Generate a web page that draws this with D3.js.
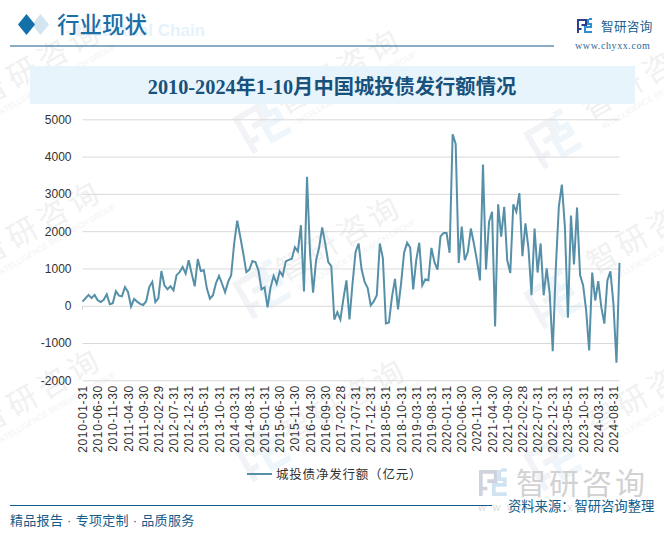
<!DOCTYPE html>
<html>
<head>
<meta charset="utf-8">
<script src="https://cdn.jsdelivr.net/npm/d3@7"></script>
<style>
html, body { margin: 0; padding: 0; background: #fff; }
svg { display: block; }
text { font-family: "Liberation Sans", "Noto Sans CJK SC", sans-serif; }
</style>
</head>
<body>
<div id="viz"></div>
<script>
const tickLabels = ['2010-01-31', '2010-06-30', '2010-11-30', '2011-04-30', '2011-09-30', '2012-02-29',
  '2012-07-31', '2012-12-31', '2013-05-31', '2013-10-31', '2014-03-31', '2014-08-31',
  '2015-01-31', '2015-06-30', '2015-11-30', '2016-04-30', '2016-09-30', '2017-02-28',
  '2017-07-31', '2017-12-31', '2018-05-31', '2018-10-31', '2019-03-31', '2019-08-31',
  '2020-01-31', '2020-06-30', '2020-11-30', '2021-04-30', '2021-09-30', '2022-02-28',
  '2022-07-31', '2022-12-31', '2023-05-31', '2023-10-31', '2024-03-31', '2024-08-31'];

const yTicks = [5000, 4000, 3000, 2000, 1000, 0, -1000, -2000];

// monthly net issuance, 2010-01 to 2024-10
const netIssuance = [
  110, 200, 290, 205, 290, 145, 100, 160, 305, 40, 70, 390,
  270, 250, 500, 370, -20, 180, 110, 50, 20, 120, 500, 640,
  100, 200, 930, 550, 440, 520, 410, 820, 900, 1040, 860, 1220,
  860, 520, 1250, 930, 950, 460, 190, 280, 610, 800, 590, 360,
  640, 820, 1670, 2280, 1850, 1400, 900, 970, 1200, 1170, 950, 440,
  490, -45, 500, 800, 590, 920, 800, 1190, 1230, 1260, 1570, 1460,
  2160, 385, 3460, 1400, 350, 1220, 1570, 2100, 1670, 1170, 1060, -370,
  -170, -370, 190, 680, -370, 590, 1440, 1670, 970, 640, 475, 10,
  115, 280, 1670, 1280, -475, -450, 230, 720, -100, 590, 1420, 1690,
  1560, 440, 1220, 1690, 550, 710, 680, 1550, 1170, 970, 1860, 1950,
  1950, 1420, 4600, 4340, 1150, 2120, 1220, 1440, 2070, 1670, 1220, 680,
  3790, 970, 2250, 2520, -555, 2720, 1850, 2650, 1220, 880, 2720, 2520,
  3020, 1330, 2210, 1540, 280, 2070, 890, 1670, 280, 1000, 320, -1220,
  1000, 2650, 3250, 2120, -320, 2420, 1110, 2630, 820, 550, -120, -1200,
  890, 140, 660, -40, -480, 680, 920, 50, -1530, 1150
];

const width = 664;
const height = 534;
const navy = '#125d8c';
const lineColour = '#5690a8';

const svg = d3.select('#viz')
  .append('svg')
  .attr('width', width)
  .attr('height', height);

const x = d3.scaleLinear()
  .domain([0, netIssuance.length - 1])
  .range([82.5, 619.5]);

const y = d3.scaleLinear()
  .domain([-2000, 5000])
  .range([380.3, 119.3]);

// company mark, 15 x 14 box
const drawLogo = (g, dark, light) => {
  g.append('path')
    .attr('d', 'M1 14 V1 H9 V6 H4.5 M4.5 10 H1')
    .attr('fill', 'none').attr('stroke', dark).attr('stroke-width', 2);
  g.append('path')
    .attr('d', 'M11 0 V5 H14 V8 H8 V13 H15 M12 0 H15')
    .attr('fill', 'none').attr('stroke', light).attr('stroke-width', 2);
};

// watermarks
const wmText = [[45, 72], [345, 80], [650, 85], [45, 232], [345, 247], [655, 240], [45, 400], [350, 410], [655, 400]];
const wmLogo = [[262, 125], [553, 140], [262, 290], [553, 300], [262, 453], [553, 462]];

const wm = svg.append('g').selectAll('g')
  .data(wmText)
  .enter()
  .append('g')
  .attr('transform', d => `translate(${d[0]}, ${d[1]}) rotate(-30)`);

wm.append('text')
  .text('智研咨询')
  .attr('text-anchor', 'middle')
  .attr('font-size', 30)
  .attr('letter-spacing', 5)
  .attr('fill', '#f1f1f1');

wm.append('text')
  .text('INTELLIGENCE RESEARCH GROUP')
  .attr('text-anchor', 'middle')
  .attr('x', 6)
  .attr('y', 15)
  .attr('font-size', 8)
  .attr('fill', '#f3f3f3');

svg.append('g').selectAll('g')
  .data(wmLogo)
  .enter()
  .append('g')
  .attr('transform', d => `translate(${d[0]}, ${d[1]}) rotate(-30) scale(3) translate(-7.5, -7)`)
  .each(function () { drawLogo(d3.select(this), '#f1f3f7', '#eef6fb'); });

// header
svg.append('path').attr('d', 'M40.5 14 L49 24.5 L40.5 35 L32 24.5 Z').attr('fill', '#d3e5f0');
svg.append('path').attr('d', 'M26.5 14 L35 24.5 L26.5 35 L18 24.5 Z').attr('fill', '#1470a8');
svg.append('text')
  .text('Industrial Chain')
  .attr('x', 205).attr('y', 36)
  .attr('text-anchor', 'end')
  .attr('font-size', 17).attr('font-weight', 'bold')
  .attr('fill', '#e6f2fb');
svg.append('text')
  .text('行业现状')
  .attr('x', 57).attr('y', 33)
  .attr('font-size', 22.5).attr('font-weight', 500)
  .attr('fill', '#1a6fa6');
svg.append('line').attr('x1', 10).attr('x2', 554).attr('y1', 46).attr('y2', 46)
  .attr('stroke', navy).attr('stroke-width', 1.2);

const topLogo = svg.append('g').attr('transform', 'translate(577, 19)');
drawLogo(topLogo, '#2f3f8f', '#2f8fd0');
svg.append('text')
  .text('智研咨询')
  .attr('x', 601).attr('y', 31)
  .attr('font-size', 12.6).attr('letter-spacing', 0.3)
  .attr('fill', '#1c5f8f');
svg.append('text')
  .text('www.chyxx.com')
  .attr('x', 575).attr('y', 49)
  .style('font-family', '"Liberation Serif"')
  .attr('font-size', 10).attr('letter-spacing', 0.6)
  .attr('fill', '#2a6a9c');

// title band
svg.append('rect').attr('x', 30).attr('y', 66).attr('width', 605).attr('height', 38).attr('fill', '#e8f4fb');
svg.append('text')
  .text('2010-2024年1-10月中国城投债发行额情况')
  .attr('x', 332).attr('y', 94)
  .attr('text-anchor', 'middle')
  .style('font-family', '"Liberation Serif", "Noto Sans CJK SC"')
  .attr('font-size', 20.3).attr('font-weight', 'bold')
  .attr('fill', '#17517c');

// grid and y axis
const yAxis = d3.axisLeft(y)
  .tickValues(yTicks)
  .tickSize(-(x.range()[1] - x.range()[0]))
  .tickPadding(11)
  .tickFormat(d => String(d));

svg.append('g')
  .attr('transform', `translate(${x.range()[0]}, 0)`)
  .call(yAxis)
  .call(g => g.select('.domain').remove())
  .call(g => g.selectAll('line').attr('stroke', '#d9d9d9'))
  .call(g => g.selectAll('text').attr('font-size', 12).attr('fill', '#333'));

// x labels, every 5 months
const xAxis = d3.axisBottom(x)
  .tickValues(d3.range(0, netIssuance.length, 5))
  .tickSize(0)
  .tickFormat((d, i) => tickLabels[i]);

svg.append('g')
  .attr('transform', `translate(0, ${y(-2000)})`)
  .call(xAxis)
  .call(g => g.select('.domain').remove())
  .call(g => g.selectAll('text')
    .attr('font-size', 12)
    .attr('letter-spacing', 0.6)
    .attr('fill', '#333')
    .attr('text-anchor', 'end')
    .attr('dy', 0)
    .attr('y', 0)
    .attr('transform', 'translate(4, 5) rotate(-90)'));

// first category tick on the zero line
svg.append('line')
  .attr('x1', x(0)).attr('x2', x(0))
  .attr('y1', y(0)).attr('y2', y(0) + 4)
  .attr('stroke', '#d9d9d9');

const line = d3.line()
  .x((d, i) => x(i))
  .y(d => y(d));

svg.append('path')
  .datum(netIssuance)
  .attr('d', line)
  .attr('fill', 'none')
  .attr('stroke', lineColour)
  .attr('stroke-width', 2);

// legend
svg.append('line').attr('x1', 247).attr('x2', 272).attr('y1', 474).attr('y2', 474)
  .attr('stroke', lineColour).attr('stroke-width', 2);
svg.append('text')
  .text('城投债净发行额（亿元）')
  .attr('x', 276).attr('y', 478.5)
  .attr('font-size', 12.5).attr('letter-spacing', 0.8)
  .attr('fill', '#333');

// footer
const footLogo = svg.append('g').attr('transform', 'translate(479, 470) scale(1.85)');
drawLogo(footLogo, '#cfd3dc', '#cfe3f3');
svg.append('text')
  .text('智研咨询')
  .attr('x', 516).attr('y', 494)
  .attr('font-size', 30).attr('letter-spacing', 3)
  .attr('fill', '#d2d2d2');
svg.append('text')
  .text('www.chyxx.com')
  .attr('x', 478).attr('y', 511)
  .attr('font-size', 11).attr('letter-spacing', 6.5)
  .attr('fill', '#dddddd');
svg.append('line').attr('x1', 10).attr('x2', 492).attr('y1', 505.5).attr('y2', 505.5)
  .attr('stroke', navy).attr('stroke-width', 1.2);
svg.append('text')
  .text('资料来源：智研咨询整理')
  .attr('x', 508).attr('y', 510.5)
  .attr('font-size', 13.3)
  .attr('fill', navy);
svg.append('text')
  .text('精品报告 · 专项定制 · 品质服务')
  .attr('x', 10).attr('y', 525)
  .attr('font-size', 13).attr('letter-spacing', 0.3)
  .attr('fill', navy);
</script>
</body>
</html>
